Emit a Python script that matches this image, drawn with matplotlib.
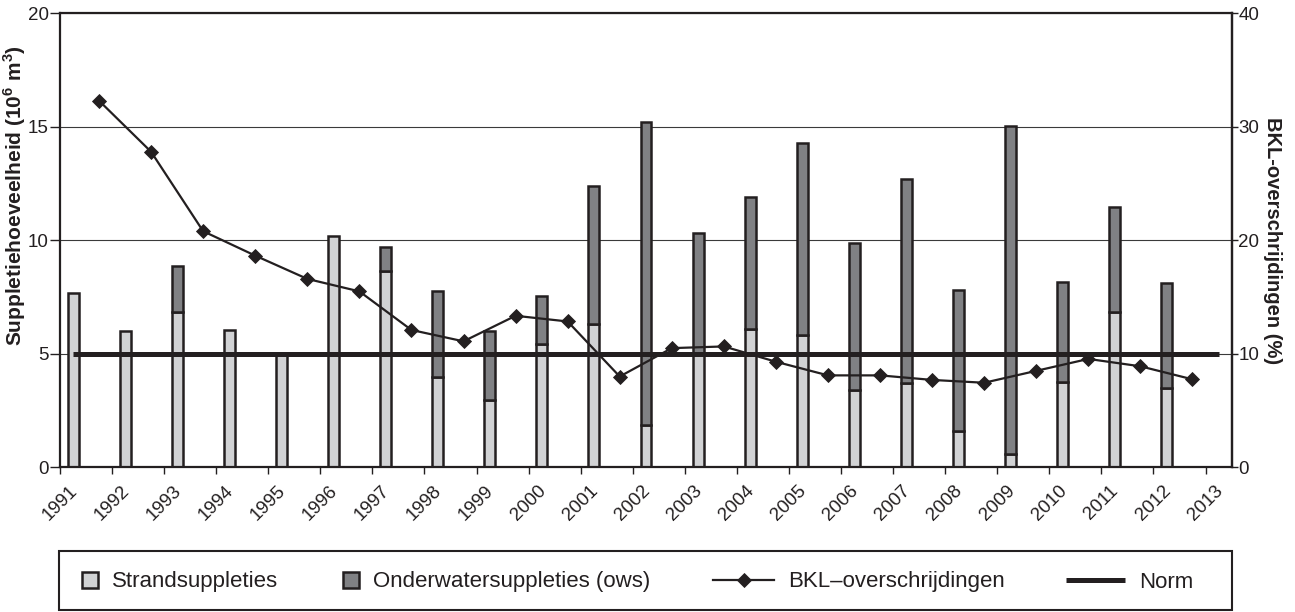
import numpy as np
from matplotlib import pyplot as plt
from matplotlib.patches import Rectangle
from matplotlib.lines import Line2D

plt.rcParams['font.family'] = ['Liberation Sans', 'DejaVu Sans']
plt.rcParams['mathtext.fontset'] = 'custom'
plt.rcParams['mathtext.rm'] = 'Liberation Sans'
plt.rcParams['mathtext.bf'] = 'Liberation Sans:bold'

########################################################
# Data
########################################################

years = list(range(1991, 2013))
tick_years = list(range(1991, 2014))

# beach nourishments, 10^6 m3
strand = [7.7, 6.0, 6.85, 6.05, 4.95, 10.2, 8.65, 4.0, 2.95, 5.45, 6.3,
          1.85, 5.05, 6.1, 5.85, 3.4, 3.7, 1.6, 0.6, 3.75, 6.85, 3.5]
# shoreface nourishments, 10^6 m3
ows = [0.0, 0.0, 2.0, 0.0, 0.0, 0.0, 1.05, 3.75, 3.05, 2.1, 6.1,
       13.35, 5.25, 5.8, 8.45, 6.5, 9.0, 6.2, 14.45, 4.4, 4.6, 4.6]
# BKL exceedances, %
bkl = [32.3, 27.8, 20.8, 18.65, 16.6, 15.5, 12.1, 11.1, 13.35, 12.85, 8.0,
       10.5, 10.65, 9.3, 8.1, 8.1, 7.7, 7.45, 8.5, 9.55, 8.9, 7.75]
norm = 5.0

labels = ["Strandsuppleties", "Onderwatersuppleties (ows)",
          "BKL\u2013overschrijdingen", "Norm"]

########################################################
# Styling
########################################################

LIGHT = "#d1d2d4"
DARK = "#808184"
INK = "#231f20"
BAR_W = 0.21
EDGE_W = 1.8

fig = plt.figure(figsize=(12.95, 6.12), dpi=100)
ax = fig.add_axes([0.0463, 0.2364, 0.9047, 0.7419])
ax2 = ax.twinx()

x = np.array(years, dtype=float)
strand = np.array(strand)
ows = np.array(ows)

# stacked bars, shifted a quarter step to the right of the year tick
ax.bar(x + 0.255, strand, width=BAR_W, color=LIGHT, edgecolor=INK,
       linewidth=EDGE_W, zorder=2)
has_ows = ows > 0
ax.bar(x[has_ows] + 0.255, ows[has_ows], bottom=strand[has_ows], width=BAR_W,
       color=DARK, edgecolor=INK, linewidth=EDGE_W, zorder=2)

# norm line
ax.plot([years[0] + 0.25, tick_years[-1] + 0.25], [norm, norm], color=INK,
        linewidth=3.6, solid_capstyle="butt", zorder=3)

# BKL line on the right axis
ax2.plot(x + 0.75, bkl, color=INK, linewidth=1.6, marker="D",
         markersize=6.8, markeredgewidth=0.6, zorder=4)

ax.set_xlim(1991, 2013.5)
ax.set_ylim(0, 20)
ax2.set_ylim(0, 40)

ax.set_yticks([0, 5, 10, 15, 20])
ax2.set_yticks([0, 10, 20, 30, 40])
ax.set_xticks(tick_years)
ax.set_xticklabels([str(y) for y in tick_years], rotation=45, ha="center")

ax.yaxis.grid(True, color="#3a3a3a", linewidth=0.8)
ax.set_axisbelow(True)

ax.tick_params(axis="y", direction="out", length=7, width=1, pad=1,
               labelsize=13.5, colors=INK)
ax.tick_params(axis="x", direction="out", length=5, width=1, pad=6,
               labelsize=13.5, colors=INK)
ax2.tick_params(axis="y", direction="out", length=4.5, width=1, pad=0.5,
                labelsize=13.5, colors=INK)

for s in ax.spines.values():
    s.set_linewidth(1.6)
    s.set_color(INK)
for name, s in ax2.spines.items():
    if name == "right":
        s.set_linewidth(1.6)
        s.set_color(INK)
    else:
        s.set_visible(False)

ax.set_ylabel(r"Suppletiehoeveelheid (10$^{\mathbf{6}}$ m$^{\mathbf{3}}$)",
              fontsize=15, fontweight="bold", color=INK)
ax.yaxis.set_label_coords(-0.0273, 0.598)
ax2.set_ylabel("BKL-overschrijdingen (%)", fontsize=14.5, fontweight="bold",
               color=INK, rotation=270, va="bottom")
ax2.yaxis.set_label_coords(1.027, 0.5)

########################################################
# Legend: framed box below the plot, items placed one by one
########################################################

frame = Rectangle((59 / 1295, 1 - 610 / 612), (1232 - 59) / 1295,
                  (610 - 551) / 612, transform=fig.transFigure,
                  facecolor="none", edgecolor=INK, linewidth=1.5)
fig.patches.append(frame)

handles = [
    Rectangle((0, 0), 1, 1, facecolor=LIGHT, edgecolor=INK, linewidth=EDGE_W),
    Rectangle((0, 0), 1, 1, facecolor=DARK, edgecolor=INK, linewidth=EDGE_W),
    Line2D([], [], color=INK, linewidth=1.6, marker="D", markersize=6.8,
           markeredgewidth=0.6),
    Line2D([], [], color=INK, linewidth=3.6, solid_capstyle="butt"),
]
item_x = [82, 343, 713, 1066]
item_len = [0.72, 0.72, 2.75, 2.65]
legend_y = 1 - 582 / 612

for h, lab, px, hl in zip(handles, labels, item_x, item_len):
    fig.legend([h], [lab], loc="center left",
               bbox_to_anchor=(px / 1295, legend_y), frameon=False,
               fontsize=16, handlelength=hl, handleheight=0.72,
               handletextpad=0.65, borderpad=0, borderaxespad=0,
               labelcolor=INK)

fig.savefig("out.png", dpi=100)
